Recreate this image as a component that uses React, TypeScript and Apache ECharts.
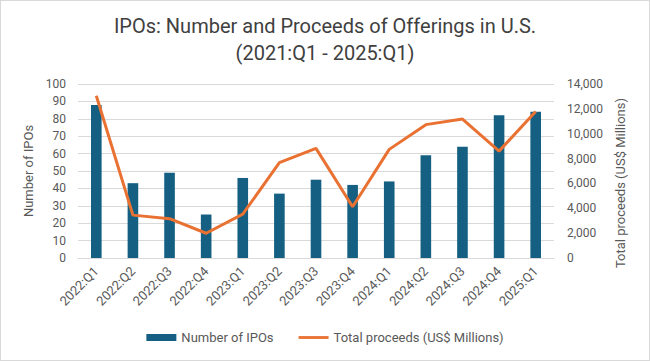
import React, { useEffect, useRef } from "react";
import * as echarts from "echarts";

const categories = [
  "2022:Q1", "2022:Q2", "2022:Q3", "2022:Q4",
  "2023:Q1", "2023:Q2", "2023:Q3", "2023:Q4",
  "2024:Q1", "2024:Q2", "2024:Q3", "2024:Q4", "2025:Q1",
];
const numberOfIPOs = [88, 43, 49, 25, 46, 37, 45, 42, 44, 59, 64, 82, 84];
const totalProceeds = [13050, 3450, 3160, 1990, 3530, 7670, 8820, 4120, 8740, 10730, 11180, 8600, 11790];

const titleText = "IPOs: Number and Proceeds of Offerings in U.S.\n(2021:Q1 - 2025:Q1)";
const FONT = "Roboto, 'Noto Sans', sans-serif";

export default function App() {
  const ref = useRef<HTMLDivElement>(null);
  useEffect(() => {
    document.body.style.margin = "0";
    if (!ref.current) return;
    const chart = echarts.init(ref.current, undefined, { renderer: "svg" });
    chart.setOption({
      animation: false,
      backgroundColor: "#ffffff",
      textStyle: { fontFamily: FONT },
      title: {
        text: titleText,
        left: "center",
        top: 6,
        textStyle: {
          fontFamily: FONT,
          fontSize: 20,
          fontWeight: "normal",
          color: "#404040",
          lineHeight: 27,
        },
      },
      legend: {
        bottom: 11,
        left: "center",
        itemGap: 25,
        textStyle: { color: "#595959", fontSize: 13, fontFamily: FONT },
        symbolKeepAspect: true,
        data: [
          { name: "Number of IPOs", icon: "rect", itemStyle: { color: "#156082" } },
          {
            name: "Total proceeds (US$ Millions)",
            icon: "path://M0,0 L32,0 L32,3 L0,3 Z",
            itemStyle: { color: "#E97132" },
          },
        ],
        itemWidth: 30,
        itemHeight: 7,
      },
      grid: { left: 77, right: 95, top: 83, bottom: 102, containLabel: false },
      xAxis: {
        type: "category",
        data: categories,
        axisTick: { show: false },
        axisLine: { lineStyle: { color: "#D9D9D9" } },
        axisLabel: { rotate: 45, color: "#595959", fontSize: 13, margin: 11, interval: 0 },
      },
      yAxis: [
        {
          type: "value",
          min: 0,
          max: 100,
          interval: 10,
          name: "Number of IPOs",
          nameLocation: "middle",
          nameGap: 38,
          nameTextStyle: { color: "#595959", fontSize: 13 },
          axisLabel: { color: "#595959", fontSize: 12, margin: 12 },
          splitLine: { lineStyle: { color: "#D9D9D9" } },
          axisLine: { show: false },
          axisTick: { show: false },
        },
        {
          type: "value",
          min: 0,
          max: 14000,
          interval: 2000,
          position: "right",
          name: "Total proceeds (US$ Millions)",
          nameLocation: "middle",
          nameGap: 60,
          nameTextStyle: { color: "#595959", fontSize: 13, padding: [0, 24, 0, 0] },
          axisLabel: {
            color: "#595959",
            fontSize: 12,
            margin: 13,
            formatter: (v: number) => v.toLocaleString("en-US"),
          },
          splitLine: { show: false },
          axisLine: { show: false },
          axisTick: { show: false },
        },
      ],
      series: [
        {
          name: "Number of IPOs",
          type: "bar",
          data: numberOfIPOs,
          barWidth: "29%",
          itemStyle: { color: "#156082" },
          yAxisIndex: 0,
        },
        {
          name: "Total proceeds (US$ Millions)",
          type: "line",
          data: totalProceeds,
          yAxisIndex: 1,
          symbol: "none",
          lineStyle: { color: "#E97132", width: 3 },
          itemStyle: { color: "#E97132" },
        },
      ],
    });
    return () => chart.dispose();
  }, []);
  return (
    <div
      ref={ref}
      style={{
        width: 648,
        height: 359,
        border: "1px solid #D9D9D9",
      }}
    />
  );
}
